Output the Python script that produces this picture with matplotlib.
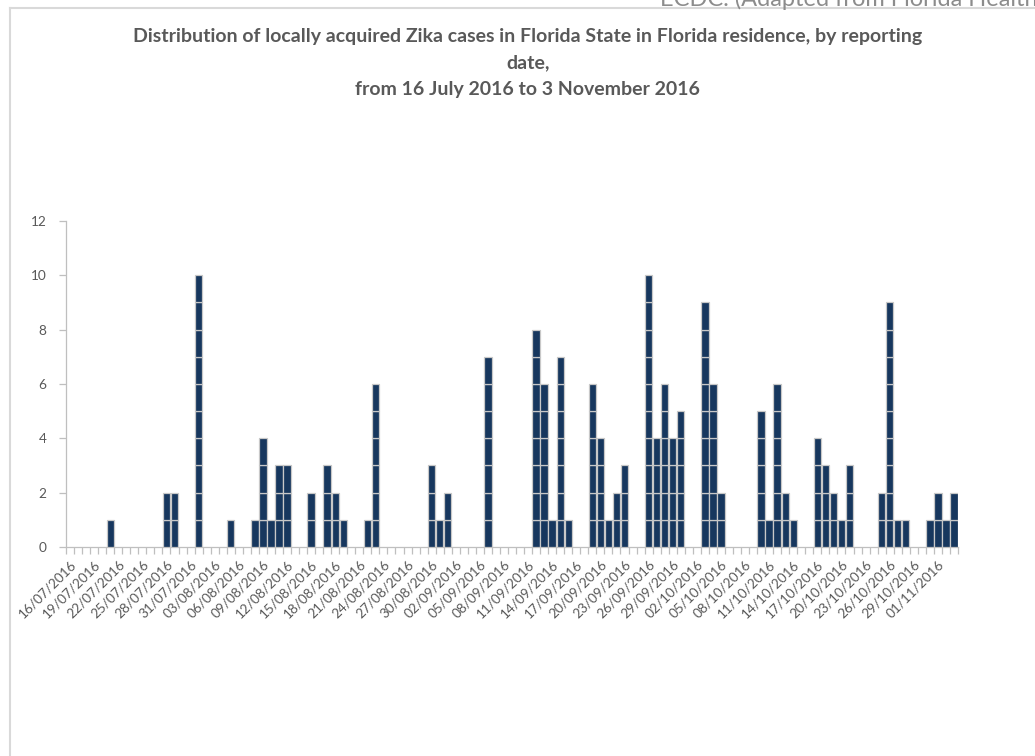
"""
Locally acquired Zika cases in Florida, by reporting date
Stacked unit-cell bar chart (one cell per case)
"""

import matplotlib.pyplot as plt
from matplotlib.lines import Line2D
import pandas as pd

plt.rcParams['font.family'] = ['Lato', 'DejaVu Sans']

# Reporting days with at least one case (all other days are zero)
case_dates = [
    "21/07/2016", "28/07/2016", "29/07/2016", "01/08/2016", "05/08/2016",
    "08/08/2016", "09/08/2016", "10/08/2016", "11/08/2016", "12/08/2016",
    "15/08/2016", "17/08/2016", "18/08/2016", "19/08/2016", "22/08/2016",
    "23/08/2016", "30/08/2016", "31/08/2016", "01/09/2016", "06/09/2016",
    "12/09/2016", "13/09/2016", "14/09/2016", "15/09/2016", "16/09/2016",
    "19/09/2016", "20/09/2016", "21/09/2016", "22/09/2016", "23/09/2016",
    "26/09/2016", "27/09/2016", "28/09/2016", "29/09/2016", "30/09/2016",
    "03/10/2016", "04/10/2016", "05/10/2016", "10/10/2016", "11/10/2016",
    "12/10/2016", "13/10/2016", "14/10/2016", "17/10/2016", "18/10/2016",
    "19/10/2016", "20/10/2016", "21/10/2016", "25/10/2016", "26/10/2016",
    "27/10/2016", "28/10/2016", "31/10/2016", "01/11/2016", "02/11/2016",
    "03/11/2016",
]
case_counts = [
    1, 2, 2, 10, 1,
    1, 4, 1, 3, 3,
    2, 3, 2, 1, 1,
    6, 3, 1, 2, 7,
    8, 6, 1, 7, 1,
    6, 4, 1, 2, 3,
    10, 4, 6, 4, 5,
    9, 6, 2, 5, 1,
    6, 2, 1, 4, 3,
    2, 1, 3, 2, 9,
    1, 1, 1, 2, 1,
    2,
]
start_date = "16/07/2016"
end_date = "03/11/2016"
y_ticks = [0, 2, 4, 6, 8, 10, 12]

title = ("Distribution of locally acquired Zika cases in Florida State in Florida residence, by reporting\n"
         "date,\n"
         "from 16 July 2016 to 3 November 2016")
source_text = "ECDC. (Adapted from Florida Health)"

BAR_COLOR = '#17375e'
CELL_EDGE = '#c8c8c8'
TEXT_GRAY = '#595959'
AXIS_GRAY = '#bfbfbf'

# Full daily series
days = pd.date_range(pd.to_datetime(start_date, dayfirst=True),
                     pd.to_datetime(end_date, dayfirst=True), freq='D')
series = pd.Series(case_counts, index=pd.to_datetime(case_dates, dayfirst=True))
daily = series.reindex(days, fill_value=0)
labels = [d.strftime('%d/%m/%Y') for d in days]
x = list(range(len(days)))

fig = plt.figure(figsize=(10.35, 7.56), dpi=100)
ax = fig.add_axes([0.0638, 0.2765, 0.8618, 0.4312])

# One cell per case: stack unit bars
for level in range(1, int(daily.max()) + 1):
    idx = [i for i, v in zip(x, daily.values) if v >= level]
    ax.bar(idx, [1] * len(idx), bottom=level - 1, width=0.92,
           color=BAR_COLOR, edgecolor=CELL_EDGE, linewidth=0.9, zorder=3)

ax.set_xlim(-0.5, len(days) - 0.5)
ax.set_ylim(0, 12)
ax.set_yticks(y_ticks)
ax.set_yticklabels([str(v) for v in y_ticks])

ax.set_xticks(x[::3])
ax.set_xticklabels(labels[::3], rotation=45, ha='right', rotation_mode='anchor')
ax.set_xticks([i - 0.5 for i in range(len(days) + 1)], minor=True)
ax.tick_params(axis='x', which='major', length=0, pad=8, labelsize=9.8, labelcolor=TEXT_GRAY)
ax.tick_params(axis='x', which='minor', length=5, color=AXIS_GRAY, width=0.9)
ax.tick_params(axis='y', length=5, color=AXIS_GRAY, width=0.9, labelsize=9.8,
               labelcolor=TEXT_GRAY, pad=9)

for side in ['top', 'right']:
    ax.spines[side].set_visible(False)
for side in ['left', 'bottom']:
    ax.spines[side].set_color(AXIS_GRAY)
    ax.spines[side].set_linewidth(0.9)

fig.text(0.51, 1 - 28 / 756, title, ha='center', va='top', fontsize=14,
         fontweight='bold', color=TEXT_GRAY, linespacing=1.68)

# Header text cut off by the top edge, and chart frame
fig.text(0.638, 1 - 6.5 / 756, source_text, ha='left', va='baseline',
         fontsize=17, color='#8c8c8c')
fig.add_artist(Line2D([10 / 1035, 10 / 1035], [0, 1 - 8 / 756],
                      transform=fig.transFigure, color='#d9d9d9', linewidth=1.5))
fig.add_artist(Line2D([10 / 1035, 1], [1 - 8 / 756, 1 - 8 / 756],
                      transform=fig.transFigure, color='#d9d9d9', linewidth=1.5))

fig.savefig('out.png', dpi=100, facecolor='white')
plt.close(fig)
